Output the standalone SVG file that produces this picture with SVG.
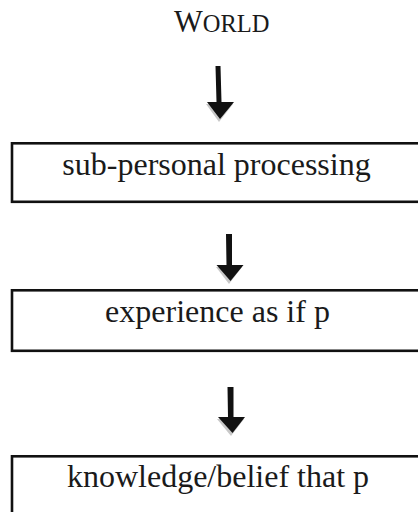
<svg xmlns="http://www.w3.org/2000/svg" width="418" height="512" viewBox="0 0 418 512">
  <style>
    .box { fill: #ffffff; stroke: #111111; stroke-width: 2.6; }
    .lbl { font-family: "Liberation Serif", "Times New Roman", serif; font-size: 32px; fill: #1a1a1a; text-anchor: middle; }
    .title { font-family: "Liberation Serif", "Times New Roman", serif; fill: #1a1a1a; }
    .arrow { fill: #111111; }
    .shadow { fill: #c8c8c8; }
  </style>
  <rect width="418" height="512" fill="#ffffff"/>
  <g id="world">
    <text class="title" x="174" y="32"><tspan font-size="30.5">W</tspan><tspan font-size="24.5">ORLD</tspan></text>
  </g>
  <g id="connectors">
    <g id="arrow1">
      <polygon class="shadow" points="206,104 233,104 219,122"/>
      <polygon class="arrow" points="215.5,66 220.5,66 221.5,102 234,102 220,119 207,102 216.5,102"/>
    </g>
    <g id="arrow2">
      <polygon class="shadow" points="216,267 242,267 229,284"/>
      <polygon class="arrow" points="226,234 232,234 232,265 243.5,265 230.5,281 216.5,265 226.5,265"/>
    </g>
    <g id="arrow3">
      <polygon class="shadow" points="217,419 244,419 231,436"/>
      <polygon class="arrow" points="227.5,387 233.5,387 233.5,417 245,417 232.5,433 218,417 228,417"/>
    </g>
  </g>
  <g id="node1">
    <rect class="box" x="12" y="143.3" width="412" height="58.5"/>
    <text class="lbl" x="216.5" y="175">sub-personal processing</text>
  </g>
  <g id="node2">
    <rect class="box" x="12" y="290.3" width="412" height="60.5"/>
    <text class="lbl" x="217.5" y="322">experience as if p</text>
  </g>
  <g id="node3">
    <rect class="box" x="12" y="456.3" width="412" height="70"/>
    <text class="lbl" x="218" y="487">knowledge/belief that p</text>
  </g>
</svg>
